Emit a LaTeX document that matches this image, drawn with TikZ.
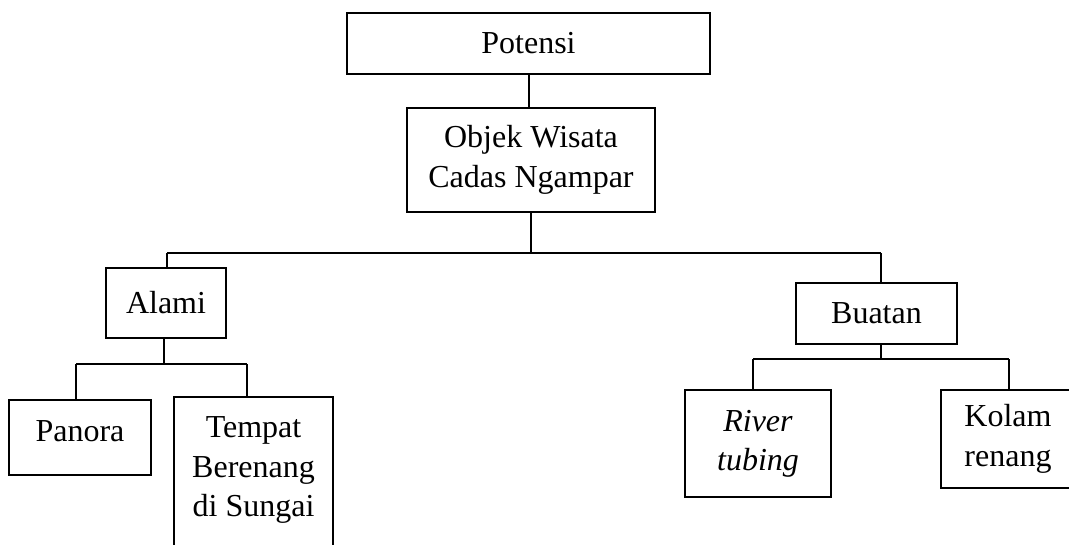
\documentclass[tikz,border=0pt]{standalone}
\usepackage{fontspec}
\setmainfont{Liberation Serif}

\tikzset{every picture/.style={line width=0.75pt}}
\tikzset{
  box/.style={draw, line width=1.4pt, align=center, inner sep=0.75pt,
    font=\fontsize{24}{29.5}\selectfont},
  boxsize/.style n args={2}{minimum width=#1*0.75pt, minimum height=#2*0.75pt},
  link/.style={line width=1.2pt},
  rail/.style={line width=0.9pt}
}

\begin{document}
\begin{tikzpicture}[x=0.75pt,y=0.75pt,yscale=-1,xscale=1]
	%set diagram size 1069 x 544
	\useasboundingbox (0,0) rectangle (1069,544);
	\clip (0,0) rectangle (1069,544);

	%Boxes
	\node [box, boxsize={363}{61}] (pot) at (528.5,43.5) {Potensi};
	\node [box, boxsize={248}{104}] (obj) at (531,160) {Objek Wisata\\Cadas Ngampar};
	\node [box, boxsize={120}{70}] (alami) at (166,303) {Alami};
	\node [box, boxsize={161}{61}] (buatan) at (876.5,313.5) {Buatan};
	\node [box, boxsize={142}{75}, text depth=9pt] (panora) at (80,437.5) {Panora};
	\node [box, boxsize={159}{164}, text depth=18.5pt] (tempat) at (253.5,479) {Tempat\\Berenang\\di Sungai};
	\node [box, boxsize={146}{107}] (river) at (758,443.5) {\textit{River}\\\textit{tubing}};
	\node [box, boxsize={134}{98}] (kolam) at (1008,439) {Kolam\\renang};

	%Branch points
	\coordinate (jA) at (531,253);
	\coordinate (jAl) at (167,253);
	\coordinate (jAr) at (881,253);
	\coordinate (jB) at (164,364);
	\coordinate (jBl) at (76,364);
	\coordinate (jBr) at (247,364);
	\coordinate (jC) at (881,359);
	\coordinate (jCl) at (753,359);
	\coordinate (jCr) at (1009,359);

	%Connectors
	\draw [link] (pot.south -| 529,0) -- (obj.north -| 529,0);
	\draw [link] (obj.south -| jA) -- (jA);
	\draw [rail] (jAl) -- (jAr);
	\draw [link] (jAl) -- (jAl |- alami.north);
	\draw [link] (jAr) -- (jAr |- buatan.north);

	\draw [link] (alami.south -| jB) -- (jB);
	\draw [rail] (jBl) -- (jBr);
	\draw [link] (jBl) -- (jBl |- panora.north);
	\draw [link] (jBr) -- (jBr |- tempat.north);

	\draw [link] (buatan.south -| jC) -- (jC);
	\draw [rail] (jCl) -- (jCr);
	\draw [link] (jCl) -- (jCl |- river.north);
	\draw [link] (jCr) -- (jCr |- kolam.north);
\end{tikzpicture}
\end{document}
